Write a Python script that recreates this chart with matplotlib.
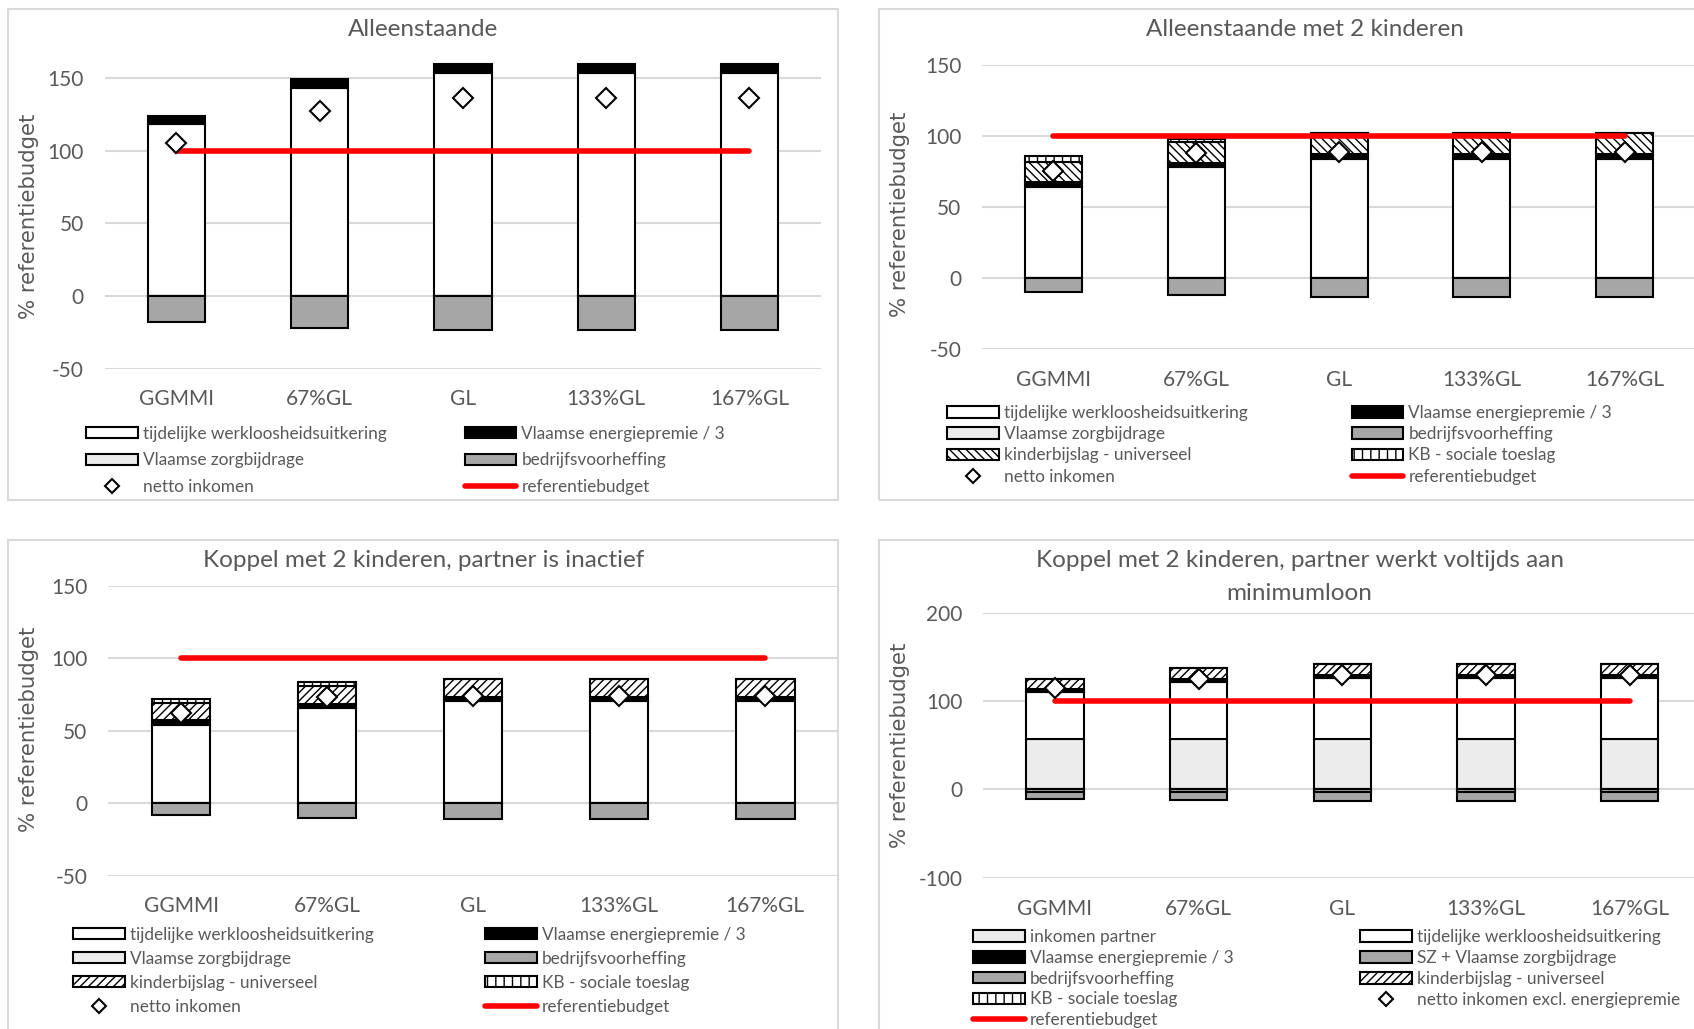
import matplotlib
matplotlib.use("Agg")
import matplotlib.pyplot as plt
from matplotlib.patches import Rectangle, Patch
from matplotlib.lines import Line2D
import numpy as np

plt.rcParams['font.family'] = ['Lato', 'DejaVu Sans']
plt.rcParams['hatch.linewidth'] = 1.0
plt.rcParams['axes.unicode_minus'] = False

categories = ['GGMMI', '67%GL', 'GL', '133%GL', '167%GL']

# Alleenstaande
p1_werkloos = [118.0, 143.2, 153.3, 153.3, 153.3]
p1_energie = [5.8, 6.0, 6.0, 6.0, 6.0]
p1_zorg = [0.0, 0.0, 0.0, 0.0, 0.0]
p1_bv = [-18.2, -22.3, -23.7, -23.7, -23.7]
p1_netto = [105.5, 126.9, 135.9, 135.9, 135.9]
p1_ref = [100, 100, 100, 100, 100]

# Alleenstaande met 2 kinderen
p2_werkloos = [64.0, 77.9, 83.7, 83.7, 83.7]
p2_energie = [3.5, 2.8, 3.6, 3.6, 3.6]
p2_kb_univ = [14.5, 15.2, 14.5, 14.5, 14.5]
p2_kb_soc = [3.7, 1.7, 0.0, 0.0, 0.0]
p2_zorg = [0.0, 0.0, 0.0, 0.0, 0.0]
p2_bv = [-9.8, -12.1, -13.1, -13.1, -13.1]
p2_netto = [75.5, 87.7, 88.9, 88.9, 88.9]
p2_ref = [100, 100, 100, 100, 100]

# Koppel met 2 kinderen, partner is inactief
p3_werkloos = [53.9, 65.4, 70.5, 70.5, 70.5]
p3_energie = [3.5, 3.0, 3.0, 3.0, 3.0]
p3_kb_univ = [11.5, 12.5, 12.2, 12.2, 12.2]
p3_kb_soc = [3.2, 2.9, 0.0, 0.0, 0.0]
p3_zorg = [0.0, 0.0, 0.0, 0.0, 0.0]
p3_bv = [-8.5, -10.4, -11.1, -11.1, -11.1]
p3_netto = [62.4, 73.0, 74.0, 74.0, 74.0]
p3_ref = [100, 100, 100, 100, 100]

# Koppel met 2 kinderen, partner werkt voltijds aan minimumloon
p4_partner = [56.6, 56.6, 56.6, 56.6, 56.6]
p4_werkloos = [54.0, 65.3, 69.8, 69.8, 69.8]
p4_energie = [2.6, 3.4, 3.4, 3.4, 3.4]
p4_kb_univ = [12.1, 12.4, 12.5, 12.5, 12.5]
p4_kb_soc = [0.0, 0.0, 0.0, 0.0, 0.0]
p4_sz = [-3.0, -3.0, -3.0, -3.0, -3.0]
p4_bv = [-7.6, -9.5, -10.6, -10.6, -10.6]
p4_netto = [115.1, 125.3, 129.8, 129.8, 129.8]
p4_ref = [100, 100, 100, 100, 100]

TXT = '#595959'
GRID = '#d9d9d9'
W, H = 1568.0, 952.0

fig = plt.figure(figsize=(16.94, 10.29), dpi=100)

def fx(x):
    return x / W

def fy(y):
    return 1 - y / H

# styles
st_white = dict(facecolor='white')
st_light = dict(facecolor='#ececec')
st_black = dict(facecolor='black')
st_gray = dict(facecolor='#a6a6a6')
st_soc = dict(facecolor='white', hatch='||')

def frame(x0, y0, x1, y1):
    fig.patches.append(Rectangle((fx(x0), fy(y1)), (x1 - x0) / W, (y1 - y0) / H,
                                 transform=fig.transFigure, fill=False,
                                 edgecolor='#d9d9d9', lw=1.5))

def panel(x0, x1, ytop, ybot, ylim, ticks, pos_series, neg_series, netto, ref):
    ax = fig.add_axes([fx(x0), fy(ybot), (x1 - x0) / W, (ybot - ytop) / H])
    x = np.arange(len(categories))
    bottom = np.zeros(len(x))
    for vals, st in pos_series:
        ax.bar(x, vals, 0.4, bottom=bottom, edgecolor='black', lw=1.5, zorder=3, **st)
        bottom = bottom + np.array(vals)
    bottom = np.zeros(len(x))
    for vals, st in neg_series:
        ax.bar(x, vals, 0.4, bottom=bottom, edgecolor='black', lw=1.5, zorder=3, **st)
        bottom = bottom + np.array(vals)
    ax.plot(x, netto, 'D', ms=10, mfc='white', mec='black', mew=1.5, zorder=5, clip_on=False)
    ax.plot(x, ref, color='red', lw=4, solid_capstyle='round', zorder=4)
    ax.set_xlim(-0.5, len(x) - 0.5)
    ax.set_ylim(*ylim)
    ax.set_yticks(ticks)
    ax.set_xticks(x)
    ax.set_xticklabels(categories)
    ax.tick_params(length=0, labelsize=15, colors=TXT)
    ax.tick_params(axis='y', pad=15)
    ax.tick_params(axis='x', pad=15)
    for s in ax.spines.values():
        s.set_visible(False)
    ax.grid(axis='y', color=GRID, lw=1.5, zorder=0)
    ax.set_axisbelow(True)
    return ax

def h_patch(st):
    return Patch(edgecolor='black', lw=1.5, **st)

h_netto = Line2D([], [], ls='none', marker='D', ms=7, mfc='white', mec='black', mew=1.5)
h_ref = Line2D([], [], color='red', lw=4, solid_capstyle='round')

def legend_col(handles, labels, x, yrows, spacing):
    yc = np.mean(yrows)
    fig.legend(handles, labels, loc='center left', bbox_to_anchor=(fx(x), fy(yc)),
               frameon=False, fontsize=12.4, labelcolor=TXT, borderpad=0, borderaxespad=0,
               handlelength=3.0, handleheight=0.65, handletextpad=0.3, labelspacing=spacing)

def ylab(x, y):
    fig.text(fx(x), fy(y), '% referentiebudget', rotation=90, ha='center', va='center',
             fontsize=15.3, color=TXT, family='DejaVu Sans')

def title(x, y, s):
    fig.text(fx(x), fy(y), s, ha='center', va='center', fontsize=17.5, color=TXT)

# ---- panel 1
frame(7, 8, 776, 463)
title(392, 27, 'Alleenstaande')
panel(97, 760, 55.9, 341, (-50, 162), [-50, 0, 50, 100, 150],
      [(p1_werkloos, st_white), (p1_energie, st_black)],
      [(p1_zorg, st_light), (p1_bv, st_gray)], p1_netto, p1_ref)
ylab(27, 200)
legend_col([h_patch(st_white), h_patch(st_light), h_netto],
           ['tijdelijke werkloosheidsuitkering', 'Vlaamse zorgbijdrage', 'netto inkomen'],
           80, [402, 426, 450], 0.62)
legend_col([h_patch(st_black), h_patch(st_gray), h_ref],
           ['Vlaamse energiepremie / 3', 'bedrijfsvoorheffing', 'referentiebudget'],
           430, [402, 426, 450], 0.62)

# ---- panel 2
frame(814, 8, 1575, 463)
title(1208, 27, 'Alleenstaande met 2 kinderen')
panel(909, 1570, 60, 323, (-50, 150), [-50, 0, 50, 100, 150],
      [(p2_werkloos, st_white), (p2_energie, st_black),
       (p2_kb_univ, dict(facecolor='white', hatch='\\\\\\\\')), (p2_kb_soc, st_soc)],
      [(p2_zorg, st_light), (p2_bv, st_gray)], p2_netto, p2_ref)
ylab(833, 198)
legend_col([h_patch(st_white), h_patch(st_light),
            h_patch(dict(facecolor='white', hatch='\\\\\\\\')), h_netto],
           ['tijdelijke werkloosheidsuitkering', 'Vlaamse zorgbijdrage',
            'kinderbijslag - universeel', 'netto inkomen'],
           877, [383, 402, 421, 440], 0.3)
legend_col([h_patch(st_black), h_patch(st_gray), h_patch(st_soc), h_ref],
           ['Vlaamse energiepremie / 3', 'bedrijfsvoorheffing',
            'KB - sociale toeslag', 'referentiebudget'],
           1251, [383, 402, 421, 440], 0.3)

# ---- panel 3
frame(7, 500, 776, 960)
title(392, 519, 'Koppel met 2 kinderen, partner is inactief')
panel(100, 776, 542, 810, (-50, 150), [-50, 0, 50, 100, 150],
      [(p3_werkloos, st_white), (p3_energie, st_black),
       (p3_kb_univ, dict(facecolor='white', hatch='////')), (p3_kb_soc, st_soc)],
      [(p3_zorg, st_light), (p3_bv, st_gray)], p3_netto, p3_ref)
ylab(27, 675)
legend_col([h_patch(st_white), h_patch(st_light),
            h_patch(dict(facecolor='white', hatch='////')), h_netto],
           ['tijdelijke werkloosheidsuitkering', 'Vlaamse zorgbijdrage',
            'kinderbijslag - universeel', 'netto inkomen'],
           68, [866, 887, 909, 930], 0.46)
legend_col([h_patch(st_black), h_patch(st_gray), h_patch(st_soc), h_ref],
           ['Vlaamse energiepremie / 3', 'bedrijfsvoorheffing',
            'KB - sociale toeslag', 'referentiebudget'],
           449, [866, 887, 909, 930], 0.46)

# ---- panel 4
frame(814, 500, 1575, 960)
title(1203, 519, 'Koppel met 2 kinderen, partner werkt voltijds aan')
title(1203, 549, 'minimumloon')
panel(910, 1575, 567, 812, (-100, 200), [-100, 0, 100, 200],
      [(p4_partner, st_light), (p4_werkloos, st_white), (p4_energie, st_black),
       (p4_kb_univ, dict(facecolor='white', hatch='////')), (p4_kb_soc, st_soc)],
      [(p4_sz, st_gray), (p4_bv, st_gray)], p4_netto, p4_ref)
ylab(833, 690)
legend_col([h_patch(st_light), h_patch(st_black), h_patch(st_gray),
            h_patch(st_soc), h_ref],
           ['inkomen partner', 'Vlaamse energiepremie / 3', 'bedrijfsvoorheffing',
            'KB - sociale toeslag', 'referentiebudget'],
           901, [868, 886, 905, 925, 943], 0.28)
legend_col([h_patch(st_white), h_patch(st_gray),
            h_patch(dict(facecolor='white', hatch='////')), h_netto],
           ['tijdelijke werkloosheidsuitkering', 'SZ + Vlaamse zorgbijdrage',
            'kinderbijslag - universeel', 'netto inkomen excl. energiepremie'],
           1259, [868, 886, 905, 925], 0.28)

fig.savefig('out.png', dpi=100)
